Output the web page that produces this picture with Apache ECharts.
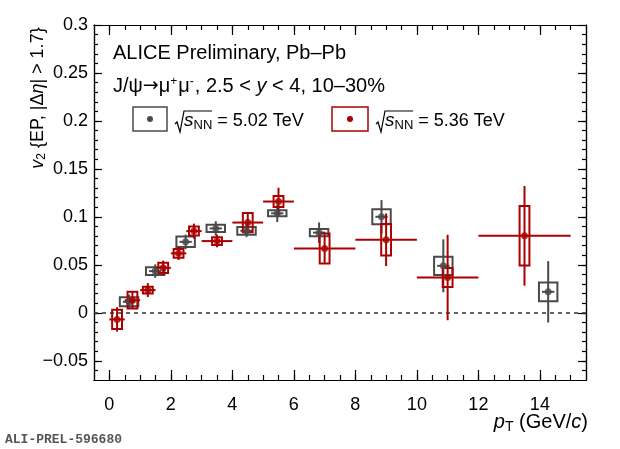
<!DOCTYPE html>
<html>
<head>
<meta charset="utf-8">
<script src="https://cdn.jsdelivr.net/npm/echarts@6/dist/echarts.min.js"></script>
<style>
  html, body { margin: 0; padding: 0; background: #fff; }
  #chart { width: 620px; height: 449px; }
</style>
</head>
<body>
<div id="chart"></div>
<script>
// J/psi v2 vs pT, 5.02 TeV (grey) and 5.36 TeV (red)
var ptGrey   = [0.64, 1.49, 2.48, 3.46, 4.46, 5.46, 6.82, 8.85, 10.86, 14.27];
var v2Grey   = [0.0115, 0.0435, 0.074, 0.088, 0.0855, 0.1037, 0.0836, 0.1001, 0.049, 0.0219];
var statGrey = [0.0075, 0.007, 0.0075, 0.0075, 0.0066, 0.009, 0.0106, 0.0174, 0.0276, 0.032];
var sysGrey  = [0.0047, 0.004, 0.0055, 0.0038, 0.004, 0.0031, 0.0038, 0.0078, 0.0095, 0.0097];
var xerrGrey = [0.2, 0.2, 0.2, 0.2, 0.2, 0.2, 0.2, 0.2, 0.2, 0.2];

var ptRed   = [0.25, 0.75, 1.25, 1.75, 2.25, 2.75, 3.5, 4.5, 5.5, 7, 9, 11, 13.5];
var v2Red   = [-0.0069, 0.0132, 0.0237, 0.0469, 0.062, 0.0852, 0.0748, 0.0941, 0.116, 0.0671, 0.0762, 0.0368, 0.0803];
var statRed = [0.0127, 0.009, 0.0073, 0.0075, 0.007, 0.0078, 0.0065, 0.011, 0.0144, 0.015, 0.0274, 0.0445, 0.052];
var sysRed  = [0.01, 0.0087, 0.0035, 0.0054, 0.0045, 0.0047, 0.004, 0.01, 0.0057, 0.0156, 0.0165, 0.01, 0.031];
var xerrRed = [0.25, 0.25, 0.25, 0.25, 0.25, 0.25, 0.5, 0.5, 0.5, 1, 1, 1, 1.5];

var xMajorTicks = [0, 2, 4, 6, 8, 10, 12, 14];
var xTickLabels = ['0', '2', '4', '6', '8', '10', '12', '14'];
var yMajorTicks = [-0.05, 0, 0.05, 0.1, 0.15, 0.2, 0.25, 0.3];
var yTickLabels = ['\u22120.05', '0', '0.05', '0.1', '0.15', '0.2', '0.25', '0.3'];

var GREY = '#4a4a4a';
var RED = '#aa0000';
var FONT = '"Liberation Sans", Arial, sans-serif';

var xMin = -0.5, xMax = 15.5, yMin = -0.07, yMax = 0.3;

// minor tick positions
var xMinorTicks = [];
for (var i = 1; i < 32; i++) xMinorTicks.push(-0.5 + i * 0.5);
var yMinorTicks = [];
for (var j = 1; j < 37; j++) yMinorTicks.push(Math.round((-0.07 + j * 0.01) * 1000) / 1000);

function pick(ticks, labels) {
    return function (v) {
        for (var k = 0; k < ticks.length; k++) {
            if (Math.abs(ticks[k] - v) < 1e-9) return labels[k];
        }
        return '';
    };
}

function xAxisDef(pos, ticks, len, labels) {
    return {
        type: 'value', min: xMin, max: xMax, position: pos,
        axisLine: { show: true, onZero: false, lineStyle: { color: '#000', width: 1.2 } },
        axisTick: { show: true, inside: true, length: len, customValues: ticks, lineStyle: { color: '#000', width: 1.2 } },
        axisLabel: labels ? {
            show: true, customValues: ticks, formatter: pick(xMajorTicks, xTickLabels),
            fontSize: 18, color: '#000', fontFamily: FONT, margin: 16
        } : { show: false },
        splitLine: { show: false }
    };
}

function yAxisDef(pos, ticks, len, labels) {
    return {
        type: 'value', min: yMin, max: yMax, position: pos,
        axisLine: { show: true, onZero: false, lineStyle: { color: '#000', width: 1.2 } },
        axisTick: { show: true, inside: true, length: len, customValues: ticks, lineStyle: { color: '#000', width: 1.2 } },
        axisLabel: labels ? {
            show: true, customValues: ticks, formatter: pick(yMajorTicks, yTickLabels),
            fontSize: 18, color: '#000', fontFamily: FONT, margin: 6
        } : { show: false },
        splitLine: { show: false }
    };
}

function boxData(pt, v2, sys) {
    return pt.map(function (p, k) { return [p, v2[k], sys[k]]; });
}
function errData(pt, v2, stat, xerr) {
    return pt.map(function (p, k) { return [p, v2[k], stat[k], xerr[k]]; });
}

function boxSeries(data, color, halfW) {
    return {
        type: 'custom', xAxisIndex: 0, yAxisIndex: 0, data: data, silent: true,
        renderItem: function (params, api) {
            var x = api.value(0), y = api.value(1), s = api.value(2);
            var a = api.coord([x - halfW, y + s]);
            var b = api.coord([x + halfW, y - s]);
            return {
                type: 'rect',
                shape: { x: a[0], y: a[1], width: b[0] - a[0], height: b[1] - a[1] },
                style: { fill: 'none', stroke: color, lineWidth: 2 }
            };
        }
    };
}

function errSeries(data, color) {
    return {
        type: 'custom', xAxisIndex: 0, yAxisIndex: 0, data: data, silent: true,
        renderItem: function (params, api) {
            var x = api.value(0), y = api.value(1), s = api.value(2), ex = api.value(3);
            var top = api.coord([x, y + s]), bot = api.coord([x, y - s]);
            var lft = api.coord([x - ex, y]), rgt = api.coord([x + ex, y]);
            var st = { stroke: color, lineWidth: 2 };
            return {
                type: 'group',
                children: [
                    { type: 'line', shape: { x1: top[0], y1: top[1], x2: bot[0], y2: bot[1] }, style: st },
                    { type: 'line', shape: { x1: lft[0], y1: lft[1], x2: rgt[0], y2: rgt[1] }, style: st }
                ]
            };
        }
    };
}

function markerSeries(pt, v2, color) {
    return {
        type: 'scatter', xAxisIndex: 0, yAxisIndex: 0, symbol: 'circle', symbolSize: 7,
        itemStyle: { color: color }, silent: true,
        data: pt.map(function (p, k) { return [p, v2[k]]; })
    };
}

function legendEntry(x0, w, color, label) {
    var tx = x0 + w + 8;
    return [
        { type: 'rect', shape: { x: x0, y: 107, width: w, height: 24 },
          style: { fill: 'none', stroke: color, lineWidth: 1.5 } },
        { type: 'circle', shape: { cx: x0 + w / 2, cy: 119, r: 3 }, style: { fill: color } },
        { type: 'polyline', shape: { points: [[tx, 124], [tx + 2, 122], [tx + 5, 132], [tx + 9, 111], [tx + 37, 111]] },
          style: { stroke: '#000', lineWidth: 1.2, fill: 'none' } },
        { type: 'text', x: tx + 9, y: 121, style: {
            text: '{s|s}{n|NN}{a| = ' + label + '}',
            verticalAlign: 'middle', fontFamily: FONT,
            rich: {
                s: { fontSize: 19, fontStyle: 'italic', fontFamily: FONT, fill: '#000', verticalAlign: 'middle' },
                n: { fontSize: 13, fontFamily: FONT, fill: '#000', verticalAlign: 'bottom', padding: [8, 0, 0, 0] },
                a: { fontSize: 18, fontFamily: FONT, fill: '#000', verticalAlign: 'middle' }
            }
        } }
    ];
}

var chart = echarts.init(document.getElementById('chart'), null, { renderer: 'canvas' });

var option = {
    animation: false,
    backgroundColor: '#fff',
    grid: { left: 94, top: 25, right: 34, bottom: 69, containLabel: false, outerBoundsMode: 'none' },
    xAxis: [
        xAxisDef('bottom', xMajorTicks, 10, true),
        xAxisDef('bottom', xMinorTicks, 5, false),
        xAxisDef('top', xMajorTicks, 10, false),
        xAxisDef('top', xMinorTicks, 5, false)
    ],
    yAxis: [
        yAxisDef('left', yMajorTicks, 8, true),
        yAxisDef('left', yMinorTicks, 4, false),
        yAxisDef('right', yMajorTicks, 8, false),
        yAxisDef('right', yMinorTicks, 4, false)
    ],
    series: [
        (function () {
            var s = boxSeries(boxData(ptGrey, v2Grey, sysGrey), GREY, 0.3);
            s.markLine = {
                silent: true, symbol: 'none', label: { show: false },
                lineStyle: { color: '#333', type: [4, 4], width: 1.6 },
                data: [{ yAxis: 0 }]
            };
            return s;
        })(),
        errSeries(errData(ptGrey, v2Grey, statGrey, xerrGrey), GREY),
        markerSeries(ptGrey, v2Grey, GREY),
        boxSeries(boxData(ptRed, v2Red, sysRed), RED, 0.16),
        errSeries(errData(ptRed, v2Red, statRed, xerrRed), RED),
        markerSeries(ptRed, v2Red, RED)
    ],
    graphic: [
        { type: 'text', x: 113, y: 53, style: {
            text: 'ALICE Preliminary, Pb\u2013Pb', fontSize: 20, fontFamily: FONT, fill: '#000', verticalAlign: 'middle' } },
        { type: 'text', x: 113, y: 86, style: {
            text: '{a|J/\u03c8}{r|\u2192}{a|\u03bc}{p|+}{a|\u03bc}{p|-}{a|, 2.5 < }{i|y}{a| < 4, 10\u201330%}',
            verticalAlign: 'middle', fontFamily: FONT,
            rich: {
                a: { fontSize: 20, fontFamily: FONT, fill: '#000', verticalAlign: 'middle' },
                r: { fontSize: 19, fontFamily: '"DejaVu Sans", sans-serif', fill: '#000', verticalAlign: 'middle' },
                i: { fontSize: 20, fontFamily: FONT, fontStyle: 'italic', fill: '#000', verticalAlign: 'middle' },
                p: { fontSize: 12, fontFamily: FONT, fill: '#000', verticalAlign: 'top', padding: [0, 1, 8, 0] }
            }
        } },
        { type: 'text', x: 38, y: 98, rotation: Math.PI / 2, style: {
            text: '{i|v}{b|2}{a| {EP, |\u0394}{i|\u03b7}{a|| > 1.7}}{a|}',
            align: 'center', verticalAlign: 'middle', fontSize: 18, fontFamily: FONT, fill: '#000',
            rich: {
                a: { fontSize: 18, fontFamily: FONT, fill: '#000', verticalAlign: 'middle' },
                i: { fontSize: 18, fontFamily: FONT, fontStyle: 'italic', fill: '#000', verticalAlign: 'middle' },
                b: { fontSize: 12, fontFamily: FONT, fill: '#000', verticalAlign: 'bottom', padding: [8, 0, 0, 0] }
            }
        } },
        { type: 'text', x: 588, y: 422, style: {
            text: '{i|p}{b|T}{a| (GeV/}{i|c}{a|)}',
            align: 'right', verticalAlign: 'middle', fontFamily: FONT,
            rich: {
                a: { fontSize: 20, fontFamily: FONT, fill: '#000', verticalAlign: 'middle' },
                i: { fontSize: 20, fontFamily: FONT, fontStyle: 'italic', fill: '#000', verticalAlign: 'middle' },
                b: { fontSize: 14, fontFamily: FONT, fill: '#000', verticalAlign: 'bottom', padding: [10, 0, 0, 0] }
            }
        } },
        { type: 'text', x: 5, y: 440, style: {
            text: 'ALI-PREL-596680', fontSize: 13, fontWeight: 'bold',
            fontFamily: '"Liberation Mono", "DejaVu Sans Mono", monospace', fill: '#555', verticalAlign: 'middle' } }
    ].concat(legendEntry(133, 34, GREY, '5.02 TeV'), legendEntry(332, 36, RED, '5.36 TeV'))
};

chart.setOption(option);
</script>
</body>
</html>
